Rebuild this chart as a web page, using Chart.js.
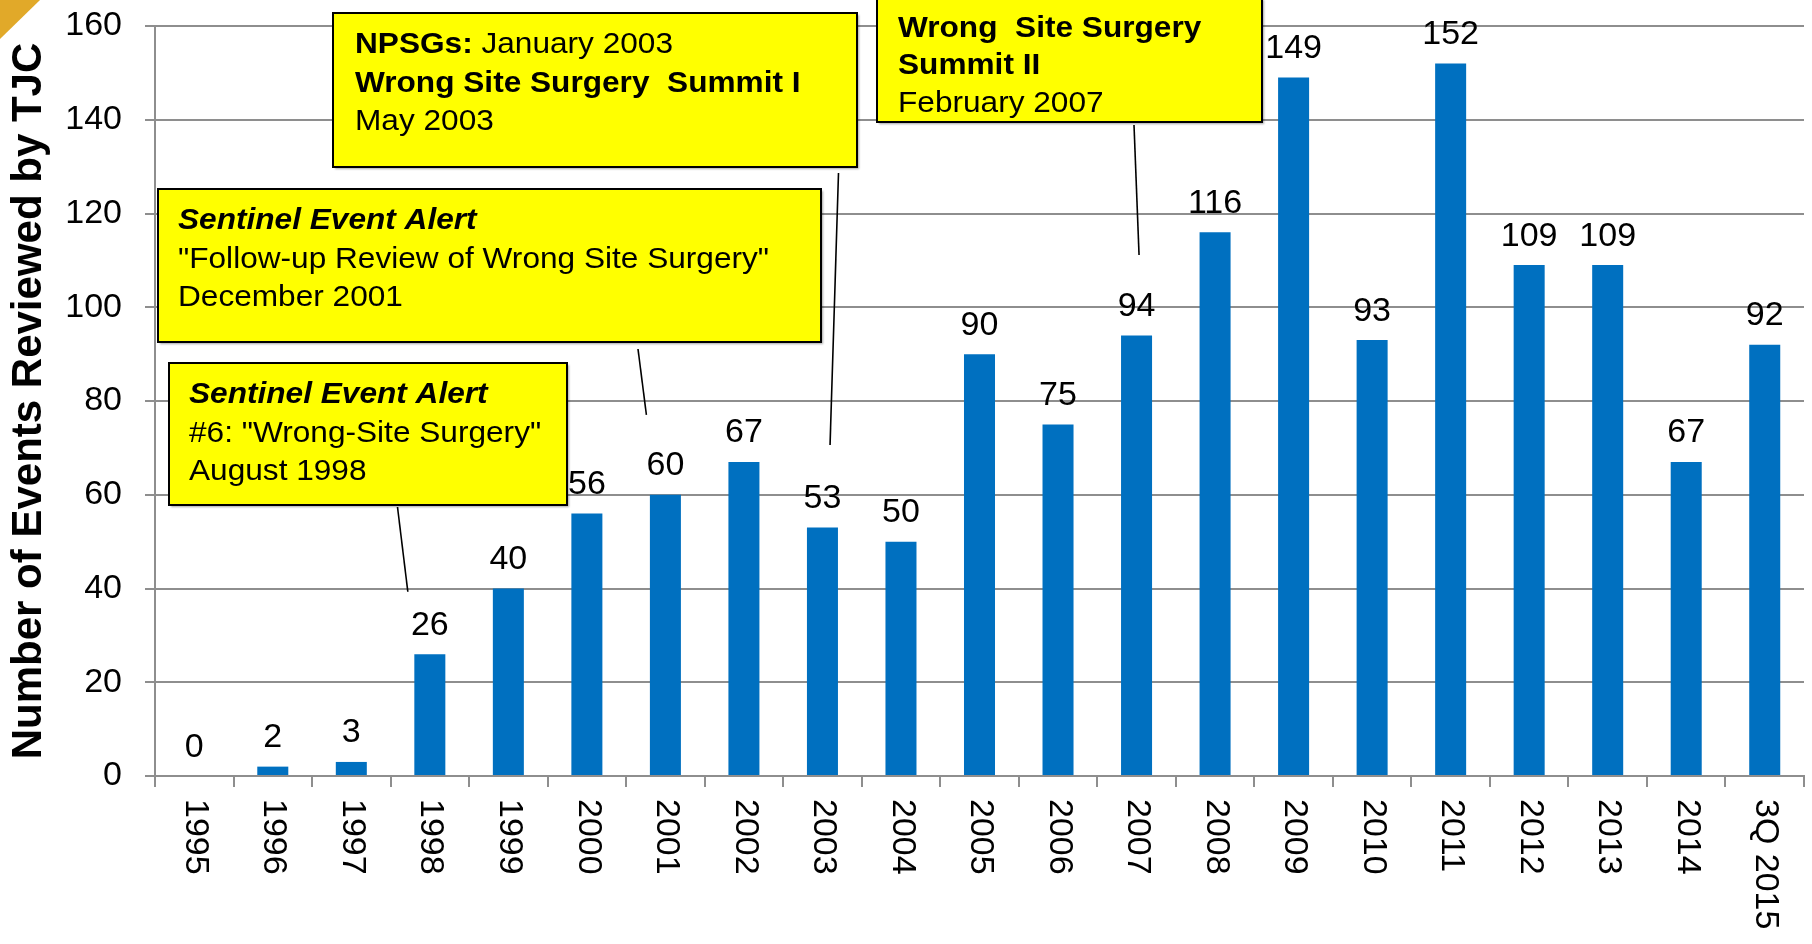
<!DOCTYPE html>
<html><head><meta charset="utf-8">
<script src="https://cdn.jsdelivr.net/npm/chart.js@4.4.1/dist/chart.umd.min.js"></script>
<style>html,body{margin:0;padding:0;background:#fff;overflow:hidden}#wrap{width:1812px;height:944px}</style>
</head><body><div id="wrap"><canvas id="c" width="1812" height="944"></canvas></div>
<script>
// ---- data ----
const categories = ['1995','1996','1997','1998','1999','2000','2001','2002','2003','2004','2005','2006','2007','2008','2009','2010','2011','2012','2013','2014','3Q 2015'];
const events = [0,2,3,26,40,56,60,67,53,50,90,75,94,116,149,93,152,109,109,67,92];
const yTickValues = [0,20,40,60,80,100,120,140,160];
const yAxisTitle = 'Number of Events Reviewed by TJC';

// annotation texts (segments: [text, style])
const note1998 = [[['Sentinel Event Alert','bi']],[['#6: "Wrong-Site Surgery"','n']],[['August 1998','n']]];
const note2001 = [[['Sentinel Event Alert','bi']],[['"Follow-up Review of Wrong Site Surgery"','n']],[['December 2001','n']]];
const note2003 = [[['NPSGs:','b'],[' January 2003','n']],[['Wrong Site Surgery  Summit I','b']],[['May 2003','n']]];
const note2007 = [[['Wrong  Site Surgery','b']],[['Summit II','b']],[['February 2007','n']]];

// ---- layout of annotation boxes (decoration) ----
const annotations = [
  {lines: note1998, box:[169,363,398,142], text:[189,403,38.5], from:[397.5,507], cat:3, val:26, dx:-22, dy:62.4},
  {lines: note2001, box:[158,189,663,153], text:[178,229,38.5], from:[638,349], cat:6, val:60, dx:-19, dy:79.8},
  {lines: note2003, box:[333,13,524,154], text:[355,53,38.5], from:[838.5,173], cat:8, val:53, dx:7.6, dy:82.6},
  {lines: note2007, box:[877,-2,385,124], text:[898,37,37.3], from:[1134,125], cat:12, val:94, dx:2.5, dy:80.4}
];

const FAM = '"Liberation Sans", Arial, Helvetica, sans-serif';
const GRID = '#8e8e8e';

const overlay = {
  id: 'overlay',
  beforeDraw(chart) {
    const ctx = chart.ctx;
    ctx.save(); ctx.fillStyle = '#fff'; ctx.fillRect(0,0,chart.width,chart.height); ctx.restore();
  },
  afterDatasetsDraw(chart) {
    const ctx = chart.ctx;
    const meta = chart.getDatasetMeta(0);
    const xs = chart.scales.x;
    ctx.save();
    ctx.fillStyle = '#000';
    ctx.font = '34px ' + FAM;
    ctx.textAlign = 'center';
    ctx.textBaseline = 'alphabetic';
    meta.data.forEach((bar, i) => {
      ctx.fillText(String(events[i]), bar.x, bar.y - 19.5);
    });
    // category labels rotated clockwise (reading top to bottom)
    ctx.textAlign = 'left';
    ctx.textBaseline = 'middle';
    categories.forEach((c, i) => {
      const x = xs.getPixelForValue(i);
      ctx.save();
      ctx.translate(x + 1, xs.top + 23);
      ctx.rotate(Math.PI / 2);
      ctx.fillText(c, 0, 0);
      ctx.restore();
    });
    ctx.restore();
  },
  afterDraw(chart) {
    const ctx = chart.ctx;
    const xs = chart.scales.x, ys = chart.scales.y;
    ctx.save();
    // connectors
    ctx.strokeStyle = '#000';
    ctx.lineWidth = 1.6;
    annotations.forEach(a => {
      const ex = xs.getPixelForValue(a.cat) + a.dx;
      const ey = ys.getPixelForValue(a.val) - a.dy;
      ctx.beginPath(); ctx.moveTo(a.from[0], a.from[1]); ctx.lineTo(ex, ey); ctx.stroke();
    });
    // boxes
    annotations.forEach(a => {
      const [bx, by, bw, bh] = a.box;
      ctx.save();
      ctx.shadowColor = 'rgba(0,0,0,0.35)';
      ctx.shadowOffsetX = 2; ctx.shadowOffsetY = 2; ctx.shadowBlur = 2;
      ctx.fillStyle = '#FFFF00';
      ctx.fillRect(bx, by, bw, bh);
      ctx.restore();
      ctx.lineWidth = 2;
      ctx.strokeStyle = '#000';
      ctx.strokeRect(bx, by, bw, bh);
      const [tx, ty, gap] = a.text;
      ctx.fillStyle = '#000';
      ctx.textBaseline = 'alphabetic';
      ctx.textAlign = 'left';
      a.lines.forEach((line, li) => {
        ctx.save();
        ctx.translate(tx, ty + li * gap);
        ctx.scale(1.09, 1);
        let cx = 0;
        line.forEach(([t, st]) => {
          const w = st === 'b' ? 'bold ' : st === 'bi' ? 'italic bold ' : '';
          ctx.font = w + '29px ' + FAM;
          ctx.fillText(t, cx, 0);
          cx += ctx.measureText(t).width;
        });
        ctx.restore();
      });
    });
    // gold corner
    ctx.fillStyle = '#E1A929';
    ctx.beginPath(); ctx.moveTo(0,0); ctx.lineTo(40,0); ctx.lineTo(0,39); ctx.closePath(); ctx.fill();
    ctx.restore();
  }
};

new Chart(document.getElementById('c'), {
  type: 'bar',
  data: {
    labels: categories,
    datasets: [{
      data: events,
      backgroundColor: '#0070C0',
      borderWidth: 0,
      barPercentage: 0.395,
      categoryPercentage: 1.0
    }]
  },
  options: {
    responsive: false,
    animation: false,
    devicePixelRatio: 1,
    layout: { padding: { top: 26, right: 8, left: 0, bottom: 0 } },
    plugins: { legend: { display: false }, tooltip: { enabled: false }, title: { display: false } },
    scales: {
      x: {
        type: 'category',
        offset: true,
        grid: { offset: true, drawOnChartArea: false, drawTicks: true, tickLength: 11, color: GRID, lineWidth: 2 },
        border: { display: true, color: GRID, width: 2 },
        ticks: { display: false },
        afterFit(s) { s.height = 168; s.paddingLeft = 0; s.paddingRight = 0; }
      },
      y: {
        min: 0, max: 160,
        afterBuildTicks(s) { s.ticks = yTickValues.map(v => ({ value: v })); },
        grid: { color: GRID, lineWidth: 2, drawTicks: true, tickLength: 10 },
        border: { display: true, color: GRID, width: 2 },
        ticks: { color: '#000', font: { family: FAM, size: 34 }, padding: 23 },
        title: {
          display: true, text: yAxisTitle, color: '#000',
          font: { family: FAM, size: 42, weight: 'bold', lineHeight: 1 },
          padding: { top: 8, bottom: 0 }
        },
        afterFit(s) { s.width = 155; s.paddingTop = 0; s.paddingBottom = 0; }
      }
    }
  },
  plugins: [overlay]
});
</script></body></html>
